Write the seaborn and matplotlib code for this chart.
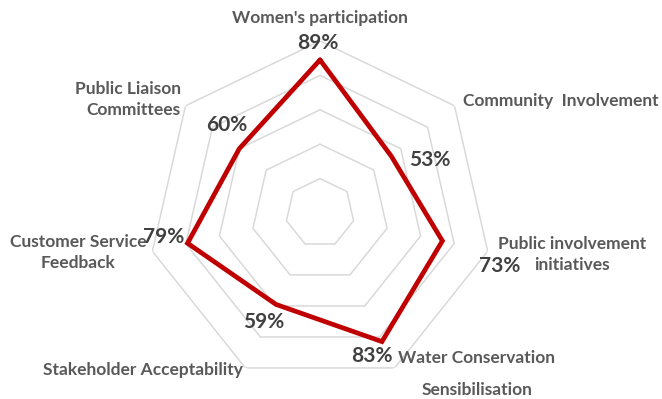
import numpy as np
import matplotlib
matplotlib.use("Agg")
import matplotlib.pyplot as plt
import seaborn as sns

# data
categories = ["Women's participation", "Community  Involvement",
              "Public involvement\ninitiatives", "Water Conservation\nSensibilisation",
              "Stakeholder Acceptability", "Customer Service\nFeedback",
              "Public Liaison\nCommittees"]
values = [89, 53, 73, 83, 59, 79, 60]
rings = [20, 40, 60, 80, 100]

# label placement (offset in pixels from the outer vertex / data point)
cat_offsets = [(0, 23), (106, 5), (84, -3), (82, -6), (-102, -2), (-74, -1), (-5, 6)]
cat_ha = ["center", "center", "center", "center", "center", "center", "right"]
cat_spacing = [1.2, 1.2, 1.4, 2.25, 1.2, 1.4, 1.4]
val_offsets = [(-2, 17), (38, -4), (57, -25), (-10, -14), (-12, -18), (-24, 6), (-13, 24)]

sns.set_style("white")
plt.rcParams['font.family'] = ['Lato', 'DejaVu Sans']

n = len(categories)
theta = np.arange(n) * 2 * np.pi / n
theta_closed = np.append(theta, theta[0] + 2 * np.pi)

fig = plt.figure(figsize=(6.62, 3.99), dpi=100)
ax = fig.add_axes([0.2236, 0.0351, 0.5196, 0.8622], projection="polar")
ax.set_theta_zero_location("N")
ax.set_theta_direction(-1)

# heptagon grid
for r in rings:
    ax.plot(theta_closed, [r] * (n + 1), color="#D9D9D9", lw=1.1, zorder=1)

sns.lineplot(x=theta_closed, y=values + values[:1], ax=ax, sort=False,
             color="#C00000", lw=3.4, zorder=3)
for line in ax.lines:
    line.set_solid_joinstyle("miter")

ax.set_ylim(0, 100)
ax.grid(False)
ax.set_xticks([])
ax.set_yticks([])
ax.set_xlabel("")
ax.set_ylabel("")
ax.spines["polar"].set_visible(False)
ax.patch.set_alpha(0)

for i, cat in enumerate(categories):
    ax.annotate(cat, xy=(theta[i], 100), xytext=cat_offsets[i], textcoords="offset pixels",
                ha=cat_ha[i], va="center", multialignment=cat_ha[i],
                fontsize=12.5, fontweight="bold", color="#595959",
                linespacing=cat_spacing[i], annotation_clip=False)

for i, v in enumerate(values):
    ax.annotate(f"{v}%", xy=(theta[i], v), xytext=val_offsets[i], textcoords="offset pixels",
                ha="center", va="center", fontsize=15, fontweight="bold",
                color="#404040", annotation_clip=False)

fig.savefig("out.png", dpi=100)
